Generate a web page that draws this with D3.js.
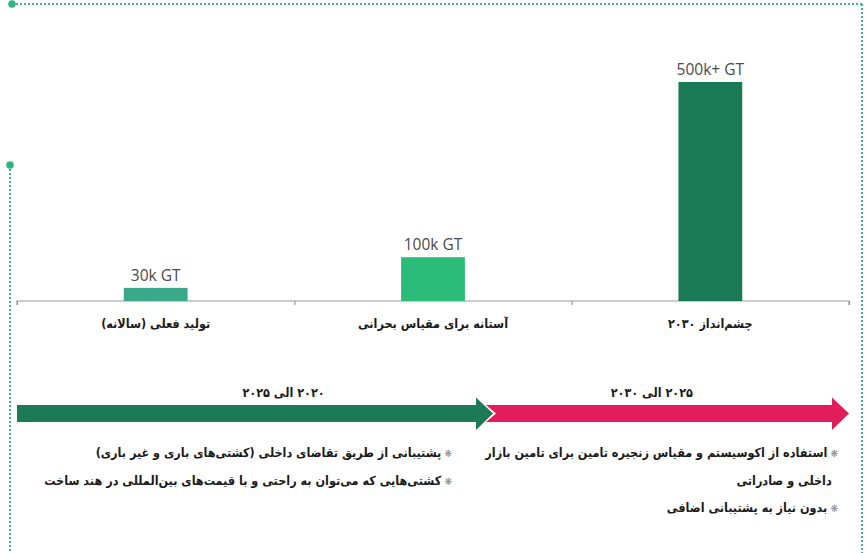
<!DOCTYPE html>
<html><head><meta charset="utf-8">
<script src="https://cdn.jsdelivr.net/npm/d3@7"></script>
<style>
html,body{margin:0;padding:0;background:#fff;}
svg{display:block;}
.fa{font-family:"DejaVu Sans Condensed","DejaVu Sans",sans-serif;font-stretch:condensed;font-weight:bold;fill:#1a1a1a;}
</style></head>
<body><svg id="c" width="867" height="553"></svg>
<script>
// ---- data ----
const categories = ["تولید فعلی (سالانه)", "آستانه برای مقیاس بحرانی", "چشم‌انداز ۲۰۳۰"];
const values = [30, 100, 500];               // thousand GT
const valueLabels = ["30k GT", "100k GT", "500k+ GT"];
const barColors = ["#3aa888", "#2bbd78", "#1b7a56"];
const periodYears = [2020, 2025, 2030];
const periodLabels = ["۲۰۲۰ الی ۲۰۲۵", "۲۰۲۵ الی ۲۰۳۰"];
const periodColors = ["#1d7a56", "#e31d5b"];
const notesLeft = [
  ["پشتیبانی از طریق تقاضای داخلی (کشتی‌های باری و غیر باری)"],
  ["کشتی‌هایی که می‌توان به راحتی و با قیمت‌های بین‌المللی در هند ساخت"]
];
const notesRight = [
  ["استفاده از اکوسیستم و مقیاس زنجیره تامین برای تامین بازار", "داخلی و صادراتی"],
  ["بدون نیاز به پشتیبانی اضافی"]
];

// ---- layout ----
const svg = d3.select("#c");
const dotColor = "#3db891";

// decorative frame
function dotted(x1, y1, x2, y2) {
  svg.append("line").attr("x1",x1).attr("x2",x2).attr("y1",y1).attr("y2",y2)
    .attr("stroke",dotColor).attr("stroke-width",2).attr("stroke-dasharray","2 2");
}
dotted(12, 4, 862, 4);
dotted(862, 4, 862, 553);
dotted(10, 165, 10, 553);
svg.append("circle").attr("cx",12).attr("cy",4).attr("r",3.8).attr("fill","#2fb57f");
svg.append("circle").attr("cx",10).attr("cy",165).attr("r",3.8).attr("fill","#2fb57f");

// scales
const x = d3.scaleBand().domain(categories).range([17, 849]).padding(0);
const y = d3.scaleLinear().domain([0, 500]).range([301, 82]);
const barW = x.bandwidth() * 0.23;

// baseline axis with ticks at band boundaries
const edges = d3.scaleLinear().domain([0, categories.length]).range(x.range());
const axisG = svg.append("g").attr("transform", `translate(0,${y(0)})`)
  .call(d3.axisBottom(edges).tickValues(d3.range(categories.length + 1)).tickSize(4).tickFormat(""));
axisG.selectAll("path,line").attr("stroke","#9a9a9a").attr("stroke-width",1.2);
axisG.select(".domain").attr("d", `M${x.range()[0]},4V0H${x.range()[1]}V4`);

// bars
svg.append("g").selectAll("rect").data(categories).join("rect")
  .attr("x", d => x(d) + (x.bandwidth() - barW) / 2)
  .attr("y", (d, i) => y(values[i]))
  .attr("width", barW)
  .attr("height", (d, i) => y(0) - y(values[i]))
  .attr("fill", (d, i) => barColors[i]);

// value labels
svg.append("g").selectAll("text").data(categories).join("text")
  .attr("x", d => x(d) + x.bandwidth() / 2)
  .attr("y", (d, i) => y(values[i]) - 7)
  .attr("text-anchor","middle")
  .attr("font-family","'Open Sans',sans-serif")
  .attr("font-size",15.5).attr("fill","#4a4a4a")
  .text((d, i) => valueLabels[i]);

// category labels
svg.append("g").selectAll("text").data(categories).join("text")
  .attr("class","fa")
  .attr("x", d => x(d) + x.bandwidth() / 2)
  .attr("y", 328)
  .attr("direction","rtl")
  .attr("text-anchor","middle")
  .attr("font-size",12.5)
  .text(d => d);

// timeline
const t = d3.scaleLinear().domain(periodYears).range([17, 493, 849]);
const bodyTop = 405, bodyBot = 422, headTop = 397.5, headBot = 430, mid = (bodyTop + bodyBot) / 2;
const headLen = 17;
const a0 = t(periodYears[0]), a1 = t(periodYears[1]), a2 = t(periodYears[2]);
svg.append("polygon").attr("fill", periodColors[0]).attr("points", [
  [a0, bodyTop], [a1 - headLen, bodyTop], [a1 - headLen, headTop], [a1, mid],
  [a1 - headLen, headBot], [a1 - headLen, bodyBot], [a0, bodyBot]
].join(" "));
svg.append("polygon").attr("fill", periodColors[1]).attr("points", [
  [a1 - 7, bodyTop], [a2 - headLen, bodyTop], [a2 - headLen, headTop], [a2, mid],
  [a2 - headLen, headBot], [a2 - headLen, bodyBot], [a1 - 7, bodyBot], [a1 + 3, mid]
].join(" "));

// period labels
const labelX = [t(2022.8), t(2027.23)];
svg.append("g").selectAll("text").data(periodLabels).join("text")
  .attr("class","fa")
  .attr("x", (d, i) => labelX[i]).attr("y", 397)
  .attr("direction","rtl").attr("text-anchor","middle")
  .attr("font-size",12.5).text(d => d);

// notes
function notes(list, xr) {
  const g = svg.append("g");
  let line = 0;
  list.forEach(item => {
    item.forEach((txt, j) => {
      const te = g.append("text").attr("class","fa")
        .attr("x", xr).attr("y", 457 + line * 27.5)
        .attr("direction","rtl").attr("text-anchor","start")
        .attr("font-size",12.5);
      if (j === 0) {
        te.append("tspan").attr("fill","#8a8a8a").attr("font-size",10).text("❋ ");
      } else {
        te.append("tspan").attr("font-size",10).text("\u00a0\u00a0");
      }
      te.append("tspan").text(txt);
      line++;
    });
  });
}
notes(notesLeft, 452);
notes(notesRight, 838);
</script></body></html>
